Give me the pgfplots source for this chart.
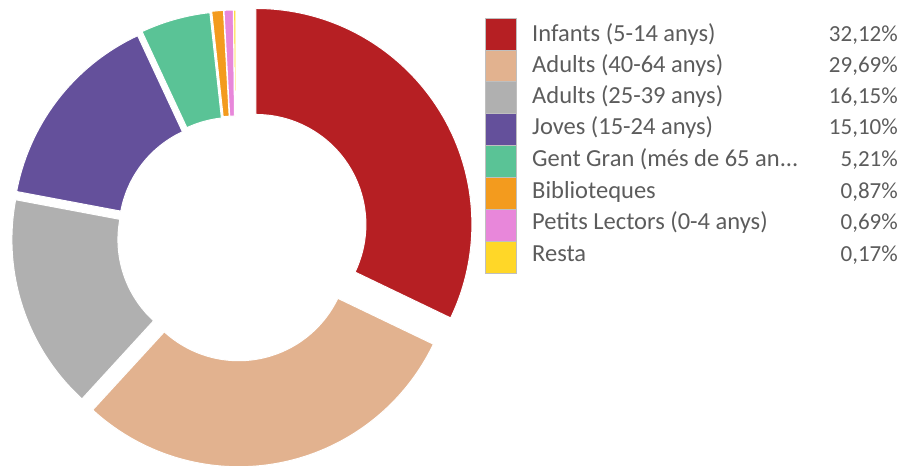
\documentclass[border=0pt]{standalone}
\usepackage{pgfplots}
\usepackage{pgfplotstable}
\pgfplotsset{compat=1.18}
\usepackage{fontspec}
\setmainfont{Carlito}

\definecolor{c0}{RGB}{182,31,35}
\definecolor{c1}{RGB}{226,178,143}
\definecolor{c2}{RGB}{176,176,176}
\definecolor{c3}{RGB}{100,80,155}
\definecolor{c4}{RGB}{90,195,150}
\definecolor{c5}{RGB}{243,155,30}
\definecolor{c6}{RGB}{232,135,218}
\definecolor{c7}{RGB}{255,215,40}
\definecolor{txt}{RGB}{92,92,92}

% share (%) and explosion offset (px)
\pgfplotstableread{
pct expl
32.12 23.5
29.69 14
16.15 8.5
15.10 9
5.21 10
0.87 11
0.69 11
0.17 11
}\slices
\pgfplotstablecreatecol[expr accum={\thisrow{pct}+\pgfmathaccuma}{0}]{cum}\slices

\begin{document}
\begin{tikzpicture}
\begin{axis}[x=1pt,y=1pt,xmin=0,xmax=906,ymin=0,ymax=472,hide axis,clip=false]
\def\cxv{236}\def\cyv{235}
\def\Rout{216}\def\Rin{110}
\foreach \i in {0,...,7}{
  \pgfplotstablegetelem{\i}{pct}\of\slices \let\pv\pgfplotsretval
  \pgfplotstablegetelem{\i}{cum}\of\slices \let\cumv\pgfplotsretval
  \pgfplotstablegetelem{\i}{expl}\of\slices \let\dv\pgfplotsretval
  \pgfmathsetmacro\sa{90-3.6*(\cumv-\pv)}
  \pgfmathsetmacro\ea{90-3.6*\cumv}
  \pgfmathsetmacro\ma{(\sa+\ea)/2}
  \pgfmathsetmacro\ox{\cxv+\dv*cos(\ma)}
  \pgfmathsetmacro\oy{\cyv+\dv*sin(\ma)}
  \pgfmathsetmacro\ax{\ox+\Rout*cos(\sa)}
  \pgfmathsetmacro\ay{\oy+\Rout*sin(\sa)}
  \pgfmathsetmacro\bx{\ox+\Rin*cos(\ea)}
  \pgfmathsetmacro\by{\oy+\Rin*sin(\ea)}
  \edef\temp{\noexpand\fill[fill=c\i,draw=white,line width=1pt] (axis cs:\ax,\ay) arc[start angle=\sa,end angle=\ea,radius=\Rout pt] -- (axis cs:\bx,\by) arc[start angle=\ea,end angle=\sa,radius=\Rin pt] -- cycle;}
  \temp
}
\pgfplotsinvokeforeach{0,...,7}{
  \fill[c#1,draw=black!25,line width=0.6pt] (axis cs:485,{454-31.9*#1}) rectangle (axis cs:516,{454-31.9*(#1+1)});
}
\begin{scope}[every node/.style={text=txt,font=\fontsize{24.5}{29}\selectfont,inner sep=0pt}]
\node[anchor=base west] at (axis cs:532,430) {Infants (5-14 anys)};
\node[anchor=base west] at (axis cs:532,399) {Adults (40-64 anys)};
\node[anchor=base west] at (axis cs:532,368) {Adults (25-39 anys)};
\node[anchor=base west] at (axis cs:532,337) {Joves (15-24 anys)};
\node[anchor=base west] at (axis cs:532,305) {Gent Gran (més de 65 an...};
\node[anchor=base west] at (axis cs:532,273) {Biblioteques};
\node[anchor=base west] at (axis cs:532,242) {Petits Lectors (0-4 anys)};
\node[anchor=base west] at (axis cs:532,210) {Resta};
\end{scope}
\begin{scope}[every node/.style={text=txt,font=\fontsize{23}{28}\selectfont,inner sep=0pt}]
\node[anchor=base east] at (axis cs:898,430) {32,12\%};
\node[anchor=base east] at (axis cs:898,399) {29,69\%};
\node[anchor=base east] at (axis cs:898,368) {16,15\%};
\node[anchor=base east] at (axis cs:898,337) {15,10\%};
\node[anchor=base east] at (axis cs:898,305) {5,21\%};
\node[anchor=base east] at (axis cs:898,273) {0,87\%};
\node[anchor=base east] at (axis cs:898,242) {0,69\%};
\node[anchor=base east] at (axis cs:898,210) {0,17\%};
\end{scope}
\end{axis}
\pgfresetboundingbox
\path (current axis.south west) rectangle (current axis.north east);
\end{tikzpicture}
\end{document}
